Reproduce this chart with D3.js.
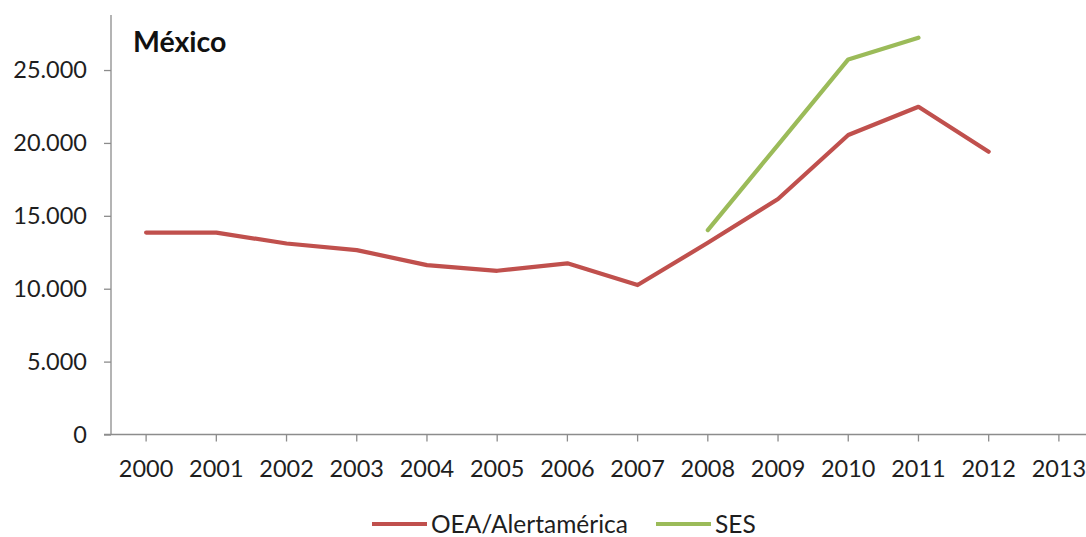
<!DOCTYPE html>
<html>
<head>
<meta charset="utf-8">
<script src="https://cdn.jsdelivr.net/npm/d3@7"></script>
<style>
  html, body { margin: 0; padding: 0; background: #fff; }
  svg { display: block; }
</style>
</head>
<body>
<svg id="chart" width="1086" height="537"></svg>
<script>
// Years on the category axis
const years = [2000, 2001, 2002, 2003, 2004, 2005, 2006, 2007, 2008, 2009, 2010, 2011, 2012, 2013];
// Homicides per year, OEA/Alertamérica series
const oeaValues = [13850, 13850, 13100, 12650, 11620, 11230, 11740, 10250, 13150, 16150, 20540, 22480, 19400, null];
// Homicides per year, SES series
const sesValues = [null, null, null, null, null, null, null, null, 14020, 19870, 25730, 27220, null, null];
// Y-axis tick values and series names
const yTicks = [0, 5000, 10000, 15000, 20000, 25000];
const seriesNames = ["OEA/Alertamérica", "SES"];
const seriesColors = ["#C0504D", "#9BBB59"];

const svg = d3.select("#chart");
const font = "Lato, 'Open Sans', sans-serif";
const axisColor = "#8c8c8c";
const textColor = "#1e1e1e";

const plot = { left: 111, right: 1094, top: 15, bottom: 434.5 };

const x = d3.scaleBand().domain(years).range([plot.left, plot.right]);
const y = d3.scaleLinear().domain([0, 28775]).range([plot.bottom, plot.top]);

// Y axis
const yAxis = d3.axisLeft(y).tickValues(yTicks).tickSize(7).tickPadding(17)
  .tickFormat(d => d3.format(",")(d).replace(/,/g, "."));
const gy = svg.append("g").attr("transform", `translate(${plot.left},0)`).call(yAxis);
gy.select(".domain").attr("stroke", axisColor).attr("stroke-width", 1.3)
  .attr("d", `M0,${plot.top}V${plot.bottom}`);
gy.selectAll(".tick line").attr("stroke", axisColor).attr("stroke-width", 1.3);
gy.selectAll(".tick text").attr("fill", textColor).style("font-family", font).style("font-size", "23.5px");

// X axis, ticks at category centres
const xAxis = d3.axisBottom(x).tickSize(7).tickPadding(19).tickSizeOuter(0);
const gx = svg.append("g").attr("transform", `translate(0,${plot.bottom})`).call(xAxis);
gx.select(".domain").attr("stroke", axisColor).attr("stroke-width", 1.3)
  .attr("d", `M${plot.left - 7},0H${plot.right}`);
gx.selectAll(".tick line").attr("stroke", axisColor).attr("stroke-width", 1.3);
gx.selectAll(".tick text").attr("fill", textColor).style("font-family", font).style("font-size", "23.5px");

// Series lines
const line = d3.line()
  .defined(d => d.v !== null)
  .x(d => x(d.year) + x.bandwidth() / 2)
  .y(d => y(d.v));

[oeaValues, sesValues].forEach((vals, i) => {
  const pts = years.map((yr, j) => ({ year: yr, v: vals[j] }));
  svg.append("path")
    .datum(pts)
    .attr("d", line)
    .attr("fill", "none")
    .attr("stroke", seriesColors[i])
    .attr("stroke-width", 4.2)
    .attr("stroke-linejoin", "round")
    .attr("stroke-linecap", "round");
});

// Title
svg.append("text")
  .attr("x", 133).attr("y", 52)
  .attr("fill", "#111")
  .style("font-family", font)
  .style("font-weight", "bold")
  .style("font-size", "28.5px")
  .text("México");

// Legend
const legendItems = [
  { name: seriesNames[0], color: seriesColors[0], x0: 372 },
  { name: seriesNames[1], color: seriesColors[1], x0: 656 }
];
const legendY = 524;
legendItems.forEach(it => {
  svg.append("line")
    .attr("x1", it.x0).attr("x2", it.x0 + 55)
    .attr("y1", legendY).attr("y2", legendY)
    .attr("stroke", it.color).attr("stroke-width", 4.2);
  svg.append("text")
    .attr("x", it.x0 + 59).attr("y", legendY)
    .attr("dy", "0.35em")
    .attr("fill", textColor)
    .style("font-family", font)
    .style("font-size", "24.5px")
    .text(it.name);
});
</script>
</body>
</html>
